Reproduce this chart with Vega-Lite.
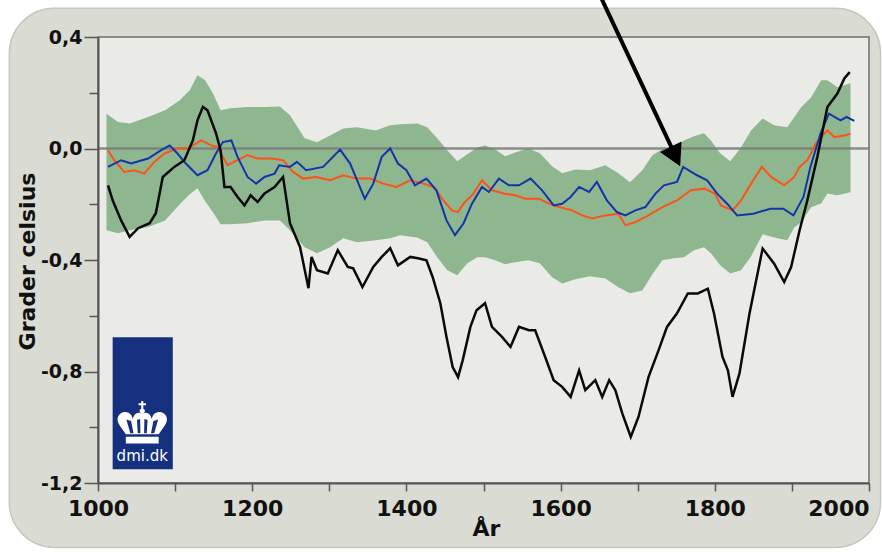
{
  "$schema": "https://vega.github.io/schema/vega-lite/v6.json",
  "width": 771,
  "height": 446,
  "autosize": {"type": "none"},
  "padding": {"left": 98, "top": 37, "right": 13, "bottom": 69},
  "background": "#ffffff",
  "config": {"view": {"stroke": null}},
  "datasets": {
    "band": [
      {"year":1011,"lo":-0.293,"hi":0.125},{"year":1026,"lo":-0.304,"hi":0.095},{"year":1041,"lo":-0.293,"hi":0.090},{"year":1065,"lo":-0.282,"hi":0.113},{"year":1087,"lo":-0.258,"hi":0.137},{"year":1106,"lo":-0.200,"hi":0.173},{"year":1119,"lo":-0.164,"hi":0.209},{"year":1129,"lo":-0.143,"hi":0.263},{"year":1139,"lo":-0.189,"hi":0.245},{"year":1149,"lo":-0.229,"hi":0.198},{"year":1159,"lo":-0.272,"hi":0.137},{"year":1172,"lo":-0.272,"hi":0.144},{"year":1194,"lo":-0.268,"hi":0.149},{"year":1216,"lo":-0.258,"hi":0.149},{"year":1236,"lo":-0.258,"hi":0.151},{"year":1249,"lo":-0.293,"hi":0.119},{"year":1268,"lo":-0.354,"hi":0.037},{"year":1284,"lo":-0.376,"hi":0.022},{"year":1301,"lo":-0.354,"hi":0.047},{"year":1318,"lo":-0.322,"hi":0.072},{"year":1336,"lo":-0.336,"hi":0.076},{"year":1360,"lo":-0.329,"hi":0.065},{"year":1379,"lo":-0.322,"hi":0.083},{"year":1392,"lo":-0.311,"hi":0.087},{"year":1414,"lo":-0.319,"hi":0.090},{"year":1427,"lo":-0.336,"hi":0.076},{"year":1440,"lo":-0.390,"hi":0.037},{"year":1453,"lo":-0.437,"hi":-0.006},{"year":1466,"lo":-0.455,"hi":-0.046},{"year":1479,"lo":-0.412,"hi":-0.021},{"year":1492,"lo":-0.390,"hi":0.004},{"year":1502,"lo":-0.390,"hi":0.011},{"year":1515,"lo":-0.401,"hi":-0.003},{"year":1528,"lo":-0.415,"hi":-0.028},{"year":1541,"lo":-0.408,"hi":-0.014},{"year":1558,"lo":-0.401,"hi":0.001},{"year":1573,"lo":-0.412,"hi":-0.017},{"year":1589,"lo":-0.462,"hi":-0.064},{"year":1602,"lo":-0.484,"hi":-0.089},{"year":1619,"lo":-0.469,"hi":-0.075},{"year":1638,"lo":-0.458,"hi":-0.078},{"year":1658,"lo":-0.466,"hi":-0.060},{"year":1675,"lo":-0.498,"hi":-0.089},{"year":1690,"lo":-0.519,"hi":-0.121},{"year":1706,"lo":-0.509,"hi":-0.078},{"year":1719,"lo":-0.451,"hi":-0.024},{"year":1732,"lo":-0.401,"hi":-0.003},{"year":1747,"lo":-0.394,"hi":0.001},{"year":1760,"lo":-0.390,"hi":0.029},{"year":1773,"lo":-0.365,"hi":0.044},{"year":1786,"lo":-0.354,"hi":0.055},{"year":1795,"lo":-0.376,"hi":0.029},{"year":1807,"lo":-0.419,"hi":-0.017},{"year":1820,"lo":-0.448,"hi":-0.046},{"year":1834,"lo":-0.437,"hi":0.004},{"year":1847,"lo":-0.387,"hi":0.065},{"year":1862,"lo":-0.308,"hi":0.108},{"year":1877,"lo":-0.319,"hi":0.083},{"year":1894,"lo":-0.329,"hi":0.076},{"year":1903,"lo":-0.283,"hi":0.112},{"year":1912,"lo":-0.265,"hi":0.148},{"year":1925,"lo":-0.211,"hi":0.184},{"year":1938,"lo":-0.197,"hi":0.245},{"year":1946,"lo":-0.161,"hi":0.245},{"year":1959,"lo":-0.168,"hi":0.220},{"year":1976,"lo":-0.157,"hi":0.234}
    ],
    "black": [
      {"year":1013,"v":-0.132},{"year":1019,"v":-0.186},{"year":1030,"v":-0.258},{"year":1041,"v":-0.317},{"year":1052,"v":-0.286},{"year":1067,"v":-0.268},{"year":1075,"v":-0.232},{"year":1084,"v":-0.102},{"year":1099,"v":-0.066},{"year":1112,"v":-0.042},{"year":1123,"v":0.029},{"year":1129,"v":0.101},{"year":1136,"v":0.149},{"year":1142,"v":0.137},{"year":1153,"v":0.055},{"year":1159,"v":-0.006},{"year":1164,"v":-0.138},{"year":1172,"v":-0.138},{"year":1181,"v":-0.174},{"year":1190,"v":-0.204},{"year":1198,"v":-0.168},{"year":1207,"v":-0.192},{"year":1216,"v":-0.161},{"year":1229,"v":-0.138},{"year":1240,"v":-0.102},{"year":1249,"v":-0.268},{"year":1262,"v":-0.353},{"year":1273,"v":-0.501},{"year":1277,"v":-0.389},{"year":1284,"v":-0.437},{"year":1298,"v":-0.448},{"year":1311,"v":-0.365},{"year":1324,"v":-0.425},{"year":1331,"v":-0.430},{"year":1343,"v":-0.497},{"year":1357,"v":-0.425},{"year":1368,"v":-0.389},{"year":1379,"v":-0.358},{"year":1389,"v":-0.419},{"year":1405,"v":-0.389},{"year":1415,"v":-0.394},{"year":1426,"v":-0.401},{"year":1434,"v":-0.461},{"year":1444,"v":-0.555},{"year":1452,"v":-0.676},{"year":1460,"v":-0.784},{"year":1467,"v":-0.820},{"year":1473,"v":-0.760},{"year":1483,"v":-0.640},{"year":1491,"v":-0.580},{"year":1502,"v":-0.555},{"year":1511,"v":-0.640},{"year":1524,"v":-0.676},{"year":1535,"v":-0.712},{"year":1546,"v":-0.640},{"year":1559,"v":-0.652},{"year":1567,"v":-0.652},{"year":1580,"v":-0.748},{"year":1591,"v":-0.831},{"year":1602,"v":-0.855},{"year":1613,"v":-0.891},{"year":1624,"v":-0.796},{"year":1632,"v":-0.867},{"year":1645,"v":-0.831},{"year":1654,"v":-0.891},{"year":1663,"v":-0.831},{"year":1671,"v":-0.867},{"year":1680,"v":-0.950},{"year":1691,"v":-1.035},{"year":1701,"v":-0.963},{"year":1714,"v":-0.820},{"year":1727,"v":-0.724},{"year":1738,"v":-0.640},{"year":1751,"v":-0.591},{"year":1765,"v":-0.520},{"year":1778,"v":-0.520},{"year":1791,"v":-0.503},{"year":1799,"v":-0.592},{"year":1810,"v":-0.748},{"year":1817,"v":-0.796},{"year":1823,"v":-0.891},{"year":1832,"v":-0.807},{"year":1845,"v":-0.592},{"year":1862,"v":-0.359},{"year":1877,"v":-0.413},{"year":1890,"v":-0.479},{"year":1899,"v":-0.425},{"year":1910,"v":-0.293},{"year":1920,"v":-0.186},{"year":1933,"v":-0.030},{"year":1946,"v":0.149},{"year":1959,"v":0.197},{"year":1968,"v":0.251},{"year":1975,"v":0.274}
    ],
    "blue": [
      {"year":1013,"v":-0.066},{"year":1030,"v":-0.042},{"year":1043,"v":-0.054},{"year":1065,"v":-0.036},{"year":1082,"v":-0.006},{"year":1093,"v":0.011},{"year":1103,"v":-0.018},{"year":1114,"v":-0.054},{"year":1129,"v":-0.096},{"year":1142,"v":-0.078},{"year":1153,"v":-0.018},{"year":1162,"v":0.023},{"year":1173,"v":0.029},{"year":1181,"v":-0.030},{"year":1194,"v":-0.102},{"year":1205,"v":-0.126},{"year":1216,"v":-0.102},{"year":1229,"v":-0.090},{"year":1235,"v":-0.060},{"year":1249,"v":-0.066},{"year":1258,"v":-0.048},{"year":1270,"v":-0.078},{"year":1292,"v":-0.066},{"year":1314,"v":-0.004},{"year":1327,"v":-0.054},{"year":1346,"v":-0.180},{"year":1357,"v":-0.126},{"year":1368,"v":-0.030},{"year":1379,"v":0.000},{"year":1389,"v":-0.054},{"year":1400,"v":-0.078},{"year":1411,"v":-0.132},{"year":1426,"v":-0.108},{"year":1439,"v":-0.150},{"year":1452,"v":-0.258},{"year":1463,"v":-0.311},{"year":1474,"v":-0.269},{"year":1485,"v":-0.198},{"year":1498,"v":-0.138},{"year":1507,"v":-0.156},{"year":1520,"v":-0.108},{"year":1533,"v":-0.132},{"year":1546,"v":-0.132},{"year":1561,"v":-0.108},{"year":1576,"v":-0.150},{"year":1591,"v":-0.204},{"year":1602,"v":-0.198},{"year":1613,"v":-0.174},{"year":1624,"v":-0.138},{"year":1637,"v":-0.156},{"year":1647,"v":-0.120},{"year":1660,"v":-0.186},{"year":1673,"v":-0.228},{"year":1684,"v":-0.240},{"year":1697,"v":-0.222},{"year":1710,"v":-0.210},{"year":1723,"v":-0.162},{"year":1734,"v":-0.132},{"year":1751,"v":-0.120},{"year":1759,"v":-0.066},{"year":1777,"v":-0.096},{"year":1790,"v":-0.114},{"year":1803,"v":-0.162},{"year":1816,"v":-0.198},{"year":1829,"v":-0.240},{"year":1850,"v":-0.234},{"year":1872,"v":-0.216},{"year":1889,"v":-0.216},{"year":1902,"v":-0.240},{"year":1915,"v":-0.174},{"year":1924,"v":-0.066},{"year":1937,"v":0.053},{"year":1948,"v":0.125},{"year":1963,"v":0.101},{"year":1971,"v":0.113},{"year":1981,"v":0.099}
    ],
    "orange": [
      {"year":1013,"v":-0.006},{"year":1021,"v":-0.042},{"year":1034,"v":-0.084},{"year":1047,"v":-0.078},{"year":1060,"v":-0.090},{"year":1073,"v":-0.048},{"year":1086,"v":-0.018},{"year":1103,"v":0.000},{"year":1116,"v":0.000},{"year":1134,"v":0.029},{"year":1147,"v":0.011},{"year":1155,"v":0.005},{"year":1162,"v":-0.030},{"year":1168,"v":-0.060},{"year":1181,"v":-0.042},{"year":1194,"v":-0.024},{"year":1207,"v":-0.036},{"year":1225,"v":-0.036},{"year":1240,"v":-0.042},{"year":1253,"v":-0.084},{"year":1266,"v":-0.108},{"year":1283,"v":-0.102},{"year":1301,"v":-0.114},{"year":1318,"v":-0.096},{"year":1335,"v":-0.108},{"year":1353,"v":-0.108},{"year":1370,"v":-0.126},{"year":1387,"v":-0.138},{"year":1405,"v":-0.114},{"year":1422,"v":-0.126},{"year":1435,"v":-0.138},{"year":1448,"v":-0.186},{"year":1459,"v":-0.222},{"year":1467,"v":-0.228},{"year":1474,"v":-0.198},{"year":1487,"v":-0.162},{"year":1498,"v":-0.114},{"year":1511,"v":-0.150},{"year":1528,"v":-0.162},{"year":1541,"v":-0.168},{"year":1554,"v":-0.180},{"year":1572,"v":-0.180},{"year":1585,"v":-0.198},{"year":1598,"v":-0.210},{"year":1615,"v":-0.222},{"year":1628,"v":-0.240},{"year":1641,"v":-0.251},{"year":1658,"v":-0.240},{"year":1675,"v":-0.234},{"year":1684,"v":-0.275},{"year":1697,"v":-0.264},{"year":1714,"v":-0.240},{"year":1732,"v":-0.210},{"year":1751,"v":-0.186},{"year":1769,"v":-0.150},{"year":1787,"v":-0.144},{"year":1800,"v":-0.162},{"year":1808,"v":-0.204},{"year":1823,"v":-0.222},{"year":1834,"v":-0.186},{"year":1847,"v":-0.126},{"year":1861,"v":-0.066},{"year":1873,"v":-0.102},{"year":1890,"v":-0.132},{"year":1903,"v":-0.102},{"year":1910,"v":-0.066},{"year":1920,"v":-0.042},{"year":1931,"v":0.018},{"year":1942,"v":0.053},{"year":1946,"v":0.065},{"year":1955,"v":0.041},{"year":1968,"v":0.047},{"year":1976,"v":0.053}
    ]
  },
  "layer": [
    {
      "data": {"values": [{}]},
      "mark": {"type": "rect", "fill": "#dadbd3", "stroke": "#c6c7c0", "strokeWidth": 1.5, "cornerRadius": 45},
      "encoding": {
        "x": {"datum": 885, "type": "quantitative", "scale": {"domain": [1000, 2000], "nice": false, "zero": false},
          "axis": {"title": "År", "values": [1000,1050,1100,1150,1200,1250,1300,1350,1400,1450,1500,1550,1600,1650,1700,1750,1800,1850,1900,1950,2000],
            "format": "d", "labelExpr": "datum.value % 200 === 0 ? datum.label : ''", "labelOverlap": false, "labelFlush": false,
            "labelAlign": {"condition": {"test": "datum.value === 2000", "value": "right"}, "value": "center"},
            "tickSize": 8, "tickWidth": 1.5, "tickColor": "#555555", "domainColor": "#555555", "domainWidth": 2,
            "labelPadding": 7, "labelFont": "DejaVu Sans", "labelFontWeight": "bold", "labelFontSize": 22, "labelColor": "#111111",
            "titleFont": "DejaVu Sans", "titleFontWeight": "bold", "titleFontSize": 22, "titleColor": "#111111",
            "titleX": 388, "titleY": 52, "titleAlign": "center", "titleBaseline": "alphabetic", "grid": false, "zindex": 1}},
        "x2": {"datum": 2015},
        "y": {"datum": 0.503, "type": "quantitative", "scale": {"domain": [-1.2, 0.4], "nice": false, "zero": false},
          "axis": {"title": "Grader celsius", "values": [-1.2,-1.1,-1.0,-0.9,-0.8,-0.7,-0.6,-0.5,-0.4,-0.3,-0.2,-0.1,0,0.1,0.2,0.3,0.4],
            "labelExpr": "abs(round(datum.value*10)) % 4 === 0 ? replace(replace(format(datum.value, '.1f'), '.', ','), '\u2212', '-') : ''",
            "labelOverlap": false, "labelFlush": false,
            "tickSize": {"condition": {"test": "abs(round(datum.value*10)) % 4 === 0", "value": 14}, "value": 9},
            "tickWidth": 1.5, "tickColor": "#555555", "domainColor": "#555555", "domainWidth": 2,
            "labelPadding": 2, "labelFont": "DejaVu Sans", "labelFontWeight": "bold", "labelFontSize": 19, "labelColor": "#111111",
            "titleFont": "DejaVu Sans", "titleFontWeight": "bold", "titleFontSize": 22, "titleColor": "#111111",
            "titleAngle": -90, "titleX": -71, "titleY": 224, "titleAlign": "center", "titleBaseline": "middle", "grid": false, "zindex": 1}},
        "y2": {"datum": -1.431}
      }
    },
    {
      "data": {"values": [{}]},
      "mark": {"type": "rect", "fill": "#eaeae6", "stroke": "#6e6e6e", "strokeWidth": 1.5},
      "encoding": {
        "x": {"datum": 1000, "type": "quantitative"},
        "x2": {"datum": 2000},
        "y": {"datum": 0.4, "type": "quantitative"},
        "y2": {"datum": -1.2}
      }
    },
    {
      "data": {"name": "band"},
      "mark": {"type": "area", "color": "#8fb78f", "opacity": 1},
      "encoding": {
        "x": {"field": "year", "type": "quantitative"},
        "y": {"field": "hi", "type": "quantitative"},
        "y2": {"field": "lo"}
      }
    },
    {
      "data": {"values": [{}]},
      "mark": {"type": "rule", "color": "#7a7a7a", "strokeWidth": 2.5, "opacity": 0.85},
      "encoding": {
        "x": {"datum": 1000, "type": "quantitative"},
        "x2": {"datum": 2000},
        "y": {"datum": 0, "type": "quantitative"}
      }
    },
    {
      "data": {"name": "orange"},
      "mark": {"type": "line", "color": "#ff5216", "strokeWidth": 2},
      "encoding": {
        "x": {"field": "year", "type": "quantitative"},
        "y": {"field": "v", "type": "quantitative"}
      }
    },
    {
      "data": {"name": "blue"},
      "mark": {"type": "line", "color": "#1434aa", "strokeWidth": 2},
      "encoding": {
        "x": {"field": "year", "type": "quantitative"},
        "y": {"field": "v", "type": "quantitative"}
      }
    },
    {
      "data": {"name": "black"},
      "mark": {"type": "line", "color": "#0a0a0a", "strokeWidth": 2.5},
      "encoding": {
        "x": {"field": "year", "type": "quantitative"},
        "y": {"field": "v", "type": "quantitative"}
      }
    },
    {
      "data": {"values": [{}]},
      "mark": {"type": "rect", "fill": "#14307f"},
      "encoding": {
        "x": {"datum": 1019, "type": "quantitative"},
        "x2": {"datum": 1097},
        "y": {"datum": -0.677, "type": "quantitative"},
        "y2": {"datum": -1.151}
      }
    },
    {
      "data": {"values": [{}]},
      "mark": {"type": "point", "filled": true, "fill": "#ffffff", "opacity": 1, "strokeWidth": 0, "size": 2809,
        "shape": "M-0.62,0.55L0.62,0.55L0.62,0.8L-0.62,0.8Z M-0.62,0.45L-0.85,0.12C-1.05,-0.15,-0.85,-0.42,-0.6,-0.38C-0.45,-0.36,-0.38,-0.25,-0.36,-0.12C-0.3,-0.35,-0.15,-0.42,0,-0.3C0.15,-0.42,0.3,-0.35,0.36,-0.12C0.38,-0.25,0.45,-0.36,0.6,-0.38C0.85,-0.42,1.05,-0.15,0.85,0.12L0.62,0.45Z M-0.1,-0.42A0.1,0.1,0,1,1,0.1,-0.42A0.1,0.1,0,1,1,-0.1,-0.42Z M-0.04,-0.8L0.04,-0.8L0.04,-0.72L0.14,-0.72L0.14,-0.64L0.04,-0.64L0.04,-0.5L-0.04,-0.5L-0.04,-0.64L-0.14,-0.64L-0.14,-0.72L-0.04,-0.72Z M-0.6,-0.1L-0.45,0.42L-0.33,0.42L-0.42,-0.05Z M-0.2,-0.08L-0.17,0.42L-0.07,0.42L-0.08,-0.12Z M0.08,-0.12L0.07,0.42L0.17,0.42L0.2,-0.08Z M0.42,-0.05L0.33,0.42L0.45,0.42L0.6,-0.1Z"},
      "encoding": {
        "x": {"datum": 1057.4, "type": "quantitative"},
        "y": {"datum": -0.982, "type": "quantitative"}
      }
    },
    {
      "data": {"values": [{}]},
      "mark": {"type": "text", "text": "dmi.dk", "color": "#ffffff", "font": "DejaVu Sans", "fontSize": 15, "align": "center", "baseline": "alphabetic"},
      "encoding": {
        "x": {"datum": 1057.4, "type": "quantitative"},
        "y": {"datum": -1.122, "type": "quantitative"}
      }
    },
    {
      "data": {"values": [{}]},
      "mark": {"type": "rule", "color": "#000000", "strokeWidth": 4},
      "encoding": {
        "x": {"datum": 1651, "type": "quantitative"},
        "y": {"datum": 0.55, "type": "quantitative"},
        "x2": {"datum": 1748.6},
        "y2": {"datum": -0.024}
      }
    },
    {
      "data": {"values": [{}]},
      "mark": {"type": "point", "filled": true, "fill": "#000000", "opacity": 1, "strokeWidth": 0, "size": 576, "angle": 334,
        "shape": "M-1,-0.8L0,1L1,-0.8Z"},
      "encoding": {
        "x": {"datum": 1748.3, "type": "quantitative"},
        "y": {"datum": -0.025, "type": "quantitative"}
      }
    }
  ]
}
